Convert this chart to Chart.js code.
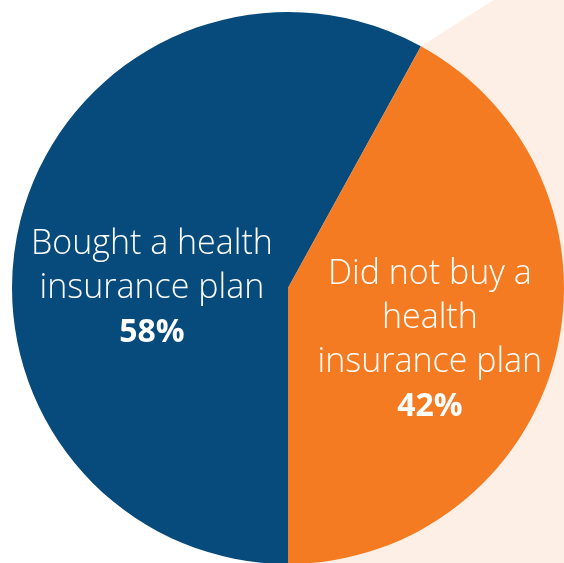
<!DOCTYPE html>
<html>
<head>
<meta charset="utf-8">
<script src="https://cdn.jsdelivr.net/npm/chart.js@4/dist/chart.umd.min.js"></script>
<style>
  html, body { margin: 0; padding: 0; background: #fff; overflow: hidden; width: 564px; height: 563px; }
  #wrap { position: absolute; left: 0; top: 0; width: 576px; height: 576px; }
</style>
</head>
<body>
<div id="wrap"><canvas id="myChart"></canvas></div>
<script>
// data
var categories = ['Bought a health insurance plan', 'Did not buy a health insurance plan'];
var shares = [58, 42];
var labelLines = [
  ['Bought a health', 'insurance plan'],
  ['Did not buy a', 'health', 'insurance plan']
];

var colors = ['#074B7C', '#F47B22'];
var peach = '#FDEFE6';

// where each label block sits, as a fraction of the radius from the centre
var labelPos = [[-0.493, 0.002], [0.514, 0.19]];

// light callout wedge behind the orange slice
var calloutPlugin = {
  id: 'callout',
  beforeDatasetsDraw: function (chart) {
    var arc = chart.getDatasetMeta(0).data[1];
    var ctx = chart.ctx;
    var a = arc.startAngle;
    var ax = arc.x + arc.outerRadius * Math.cos(a);
    var ay = arc.y + arc.outerRadius * Math.sin(a);
    var dir = a + 28.8 * Math.PI / 180;
    var t = (ay + 20) / -Math.sin(dir);
    var W = chart.width, H = chart.height;
    ctx.save();
    ctx.fillStyle = peach;
    ctx.beginPath();
    ctx.moveTo(ax, ay);
    ctx.lineTo(ax + t * Math.cos(dir), ay + t * Math.sin(dir));
    ctx.lineTo(W + 20, -20);
    ctx.lineTo(W + 20, H + 20);
    ctx.lineTo(arc.x, H + 20);
    ctx.lineTo(arc.x, arc.y);
    ctx.closePath();
    ctx.fill();
    ctx.restore();
  }
};

var labelPlugin = {
  id: 'sliceLabels',
  afterDatasetsDraw: function (chart) {
    var meta = chart.getDatasetMeta(0);
    var ctx = chart.ctx;
    var lh = 44;
    ctx.save();
    ctx.fillStyle = '#ffffff';
    ctx.textAlign = 'center';
    ctx.textBaseline = 'middle';
    meta.data.forEach(function (arc, i) {
      var lines = labelLines[i].concat([shares[i] + '%']);
      var x = arc.x + labelPos[i][0] * arc.outerRadius;
      var y = arc.y + labelPos[i][1] * arc.outerRadius - (lines.length - 1) * lh / 2;
      lines.forEach(function (s, k) {
        var last = k === lines.length - 1;
        ctx.font = last ? '700 32px "Open Sans", "Noto Sans", sans-serif'
                        : '300 34px "Open Sans", "Noto Sans", sans-serif';
        ctx.fillText(s, x, y + k * lh);
      });
    });
    ctx.restore();
  }
};

var ctx = document.getElementById('myChart');
var myChart = new Chart(ctx, {
  type: 'pie',
  data: {
    labels: categories,
    datasets: [{
      data: shares,
      backgroundColor: colors,
      borderWidth: 0,
      hoverOffset: 0
    }]
  },
  options: {
    rotation: 180,
    responsive: true,
    maintainAspectRatio: false,
    animation: false,
    layout: { padding: 12 },
    plugins: {
      legend: { display: false },
      tooltip: { enabled: false }
    }
  },
  plugins: [calloutPlugin, labelPlugin]
});
</script>
</body>
</html>
